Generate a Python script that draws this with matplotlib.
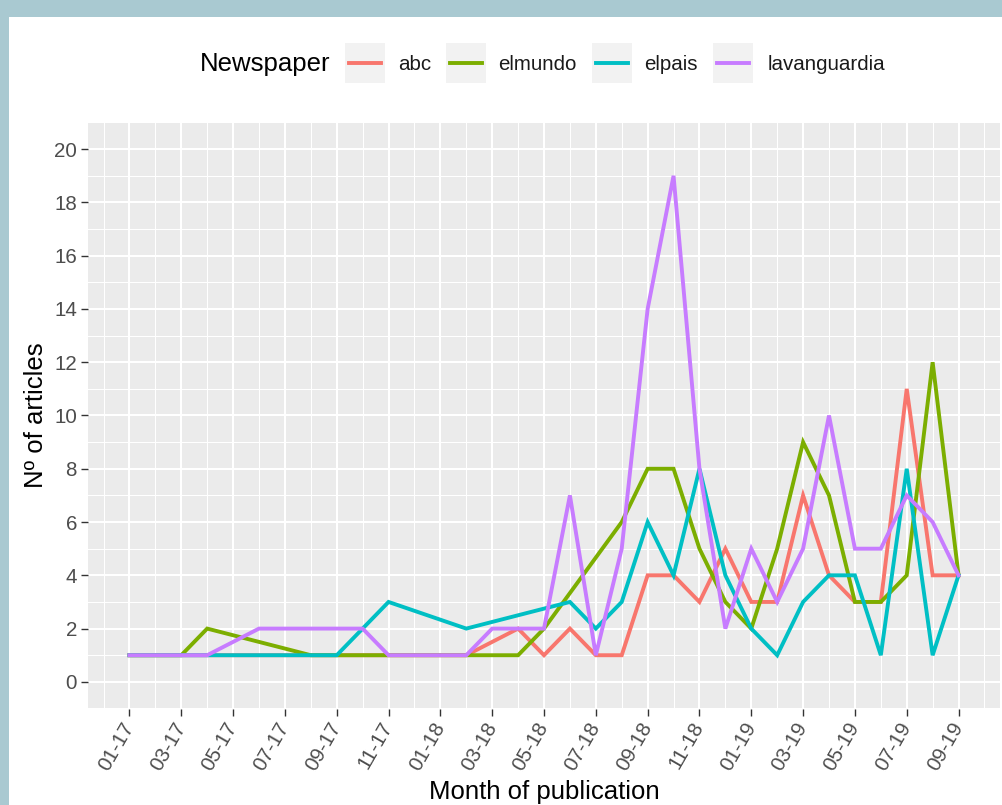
import matplotlib
matplotlib.use("Agg")
import matplotlib.pyplot as plt
from matplotlib.patches import Rectangle
from matplotlib.lines import Line2D
import numpy as np

plt.rcParams['font.family'] = ['Liberation Sans', 'DejaVu Sans']

months = ["01-17", "02-17", "03-17", "04-17", "05-17", "06-17", "07-17", "08-17",
          "09-17", "10-17", "11-17", "12-17", "01-18", "02-18", "03-18", "04-18",
          "05-18", "06-18", "07-18", "08-18", "09-18", "10-18", "11-18", "12-18",
          "01-19", "02-19", "03-19", "04-19", "05-19", "06-19", "07-19", "08-19",
          "09-19"]

# None = no articles that month (line joins neighbouring months)
abc = [1, 1, 1, 1, 1, 1, 1, 1, 1, 1, 1, 1, 1, 1, None, 2, 1, 2, 1, 1,
       4, 4, 3, 5, 3, 3, 7, 4, 3, 3, 11, 4, 4]
elmundo = [1, 1, 1, 2, None, None, None, 1, 1, 1, 1, 1, 1, 1, 1, 1, 2, None, None, 6,
           8, 8, 5, 3, 2, 5, 9, 7, 3, 3, 4, 12, 4]
elpais = [1, 1, 1, 1, 1, 1, 1, 1, 1, 2, 3, None, None, 2, None, None, None, 3, 2, 3,
          6, 4, 8, 4, 2, 1, 3, 4, 4, 1, 8, 1, 4]
lavanguardia = [1, 1, 1, 1, None, 2, 2, 2, 2, 2, 1, 1, 1, 1, 2, 2, 2, 7, 1, 5,
                14, 19, 8, 2, 5, 3, 5, 10, 5, 5, 7, 6, 4]

names = ["abc", "elmundo", "elpais", "lavanguardia"]
series = [abc, elmundo, elpais, lavanguardia]
colors = ["#F8766D", "#7CAE00", "#00BFC4", "#C77CFF"]

W, H = 1003, 805
fig = plt.figure(figsize=(W / 100, H / 100), dpi=100)
fig.patch.set_facecolor("#A9C9D1")


def px(x, y):
    return x / W, 1 - y / H


# white card on the blue background
fig.add_artist(Rectangle(px(9, H), 1 - 9 / W, (H - 17) / H, transform=fig.transFigure,
                         facecolor="white", edgecolor="none", zorder=0))

ax = fig.add_axes([88 / W, 1 - 708.5 / H, (1000 - 88) / W, (708.5 - 122.5) / H])
ax.set_facecolor("#EBEBEB")

for vals, name, col in zip(series, names, colors):
    x = [i for i, v in enumerate(vals) if v is not None]
    y = [v for v in vals if v is not None]
    ax.plot(x, y, color=col, lw=2.8, label=name, solid_joinstyle="miter", zorder=3)

ax.set_xlim(-1.6, len(months) - 1 + 1.6)
ax.set_ylim(-1, 21)

ax.set_xticks(np.arange(0, len(months), 2))
ax.set_xticklabels(months[::2], rotation=60, ha="right", va="center",
                   rotation_mode="anchor")
ax.set_xticks(np.arange(-1, len(months) + 1, 2), minor=True)
ax.set_yticks(np.arange(0, 21, 2))
ax.set_yticks(np.arange(-1, 22, 2), minor=True)

ax.grid(which="major", color="white", lw=1.5, zorder=1)
ax.grid(which="minor", color="white", lw=0.75, zorder=1)
ax.set_axisbelow(True)
for s in ax.spines.values():
    s.set_visible(False)

ax.tick_params(which="major", length=5, width=1.0, color="#333333",
               labelsize=14.8, labelcolor="#4D4D4D", pad=3)
ax.tick_params(axis="x", which="major", pad=6)
ax.tick_params(which="minor", length=0)

ax.set_xlabel("Month of publication", fontsize=18.5, labelpad=4)
ax.set_ylabel("Nº of articles", fontsize=18.5, labelpad=4)

# legend on top, ggplot style
fig.text(*px(200, 64), "Newspaper", fontsize=18.5, ha="left", va="center")
key_x = [345, 446, 592, 713]
text_x = [398, 498, 644, 768]
for kx, tx, name, col in zip(key_x, text_x, names, colors):
    fig.add_artist(Rectangle(px(kx, 83), 40 / W, 40 / H, transform=fig.transFigure,
                             facecolor="#F2F2F2", edgecolor="none"))
    x0, y0 = px(kx + 4, 63)
    x1, _ = px(kx + 36, 63)
    fig.add_artist(Line2D([x0, x1], [y0, y0], transform=fig.transFigure,
                          color=col, lw=2.8))
    fig.text(*px(tx, 64), name, fontsize=14.8, color="#1A1A1A", ha="left", va="center")

fig.savefig("out.png", dpi=100, facecolor=fig.get_facecolor())
